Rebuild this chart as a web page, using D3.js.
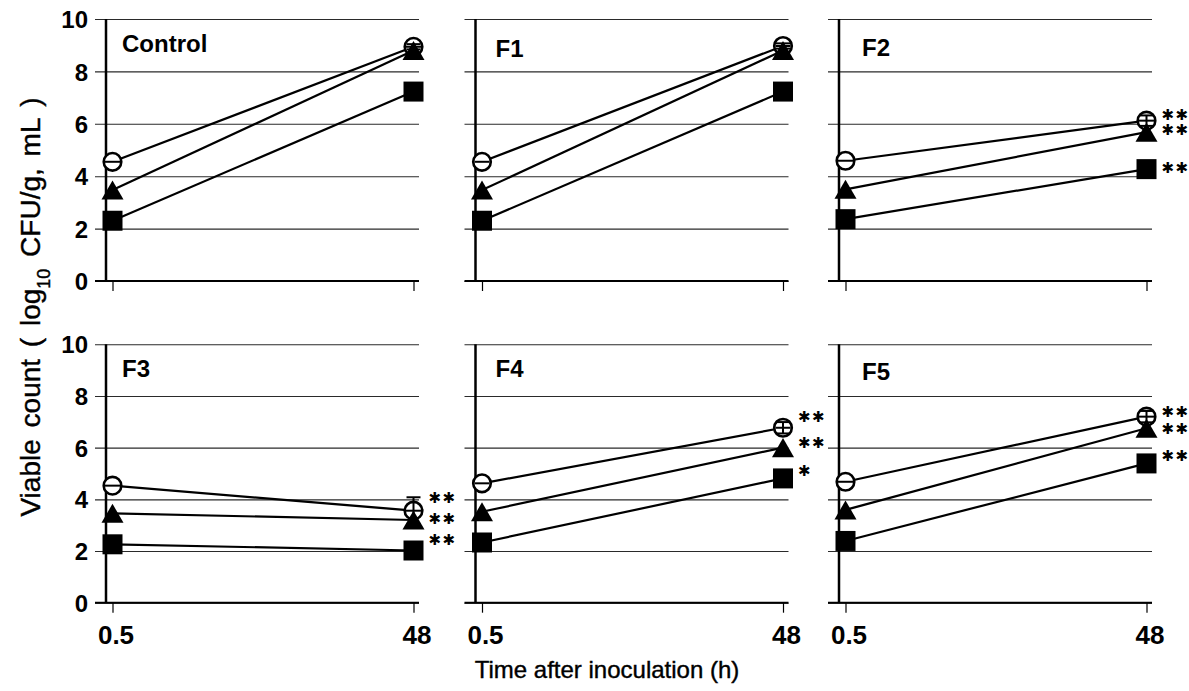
<!DOCTYPE html>
<html>
<head>
<meta charset="utf-8">
<script src="https://cdn.jsdelivr.net/npm/d3@7"></script>
<style>
  html, body { margin: 0; padding: 0; background: #fff; }
  svg { display: block; }
  text { font-family: "Liberation Sans", Arial, sans-serif; fill: #000; }
</style>
</head>
<body>
<svg id="chart" width="1189" height="691"></svg>
<script>
// ---------- data ----------
const panels = ["Control", "F1", "F2", "F3", "F4", "F5"];
const times = ["0.5", "48"];
const yTicks = [0, 2, 4, 6, 8, 10];

// open circles
const circleVals   = [[4.55, 8.94], [4.55, 8.97], [4.59, 6.12], [4.53, 3.56], [4.62, 6.77], [4.68, 7.20]];
const circleSD     = [[0.0, 0.10], [0.0, 0.10], [0.0, 0.20], [0.0, 0.52], [0.0, 0.22], [0.0, 0.22]];
// filled triangles
const triangleVals = [[3.47, 8.80], [3.47, 8.80], [3.50, 5.68], [3.46, 3.20], [3.52, 6.00], [3.59, 6.75]];
// filled squares
const squareVals   = [[2.30, 7.23], [2.30, 7.23], [2.36, 4.27], [2.26, 2.02], [2.33, 4.81], [2.39, 5.39]];

// significance marks at 48 h (circle, triangle, square) and where they sit (data units)
const sigLabels = [[null, null, null], [null, null, null], ["**", "**", "**"],
                   ["**", "**", "**"], ["**", "**", "*"], ["**", "**", "**"]];
const sigAt     = [[0, 0, 0], [0, 0, 0], [6.37, 5.76, 4.31],
                   [4.05, 3.24, 2.43], [7.20, 6.18, 5.13], [7.41, 6.72, 5.71]];

const yTitleA = "Viable count ( log";
const yTitleSub = "10";
const yTitleB = " CFU/g, mL )";
const xTitle = "Time after inoculation (h)";

// ---------- layout ----------
const svg = d3.select("#chart");
const colLeft = [106, 475.5, 839];
const panelW = 313;
const rowRange = [[281, 19], [602.7, 344.3]];
const gridOut = 11;
const labelDx = [16, 20, 23];
const labelDy = [[33, 38, 37], [33, 33, 36]];

function panelScales(i) {
  const col = i % 3, row = Math.floor(i / 3);
  const left = colLeft[col];
  const x = d3.scalePoint().domain(times).range([left + 6.5, left + panelW - 5.5]);
  const y = d3.scaleLinear().domain([0, 10]).range(rowRange[row]);
  return { x, y, left, col, row };
}

panels.forEach((name, i) => {
  const { x, y, left, col, row } = panelScales(i);
  const g = svg.append("g");

  // gridlines + tick stubs (left of axis)
  const yAxis = d3.axisLeft(y).tickValues(yTicks).tickSize(-(panelW + gridOut))
    .tickFormat(col === 0 ? d3.format("d") : () => "");
  const ga = g.append("g").attr("transform", `translate(${left - gridOut},0)`).call(yAxis);
  ga.select(".domain").remove();
  ga.selectAll(".tick line").attr("stroke", "#2a2a2a").attr("stroke-width", 1.1);
  ga.selectAll(".tick text")
    .attr("x", -(106 - 88 - gridOut)).attr("dy", "0.36em")
    .style("font-size", "24px").style("font-weight", "bold");

  // x axis line (0) thicker
  g.append("line").attr("x1", left - gridOut).attr("x2", left + panelW)
    .attr("y1", y(0)).attr("y2", y(0)).attr("stroke", "#000").attr("stroke-width", 2);
  // y axis line
  g.append("line").attr("x1", left).attr("x2", left)
    .attr("y1", y(10)).attr("y2", y(0)).attr("stroke", "#000").attr("stroke-width", 2.5);

  // x ticks
  const xAxis = d3.axisBottom(x).tickSize(10).tickSizeOuter(0)
    .tickFormat(row === 1 ? (d => d) : () => "");
  const gx = g.append("g").attr("transform", `translate(0,${y(0)})`).call(xAxis);
  gx.select(".domain").remove();
  gx.selectAll(".tick line").attr("stroke", "#000").attr("stroke-width", 1.2);
  gx.selectAll(".tick text").attr("y", 0).attr("dy", 0).attr("dx", 3)
    .attr("transform", "translate(0,41)")
    .style("font-size", "26px").style("font-weight", "bold");

  // lines
  const line = d3.line().x((d, j) => x(times[j])).y(d => y(d));
  [circleVals[i], triangleVals[i], squareVals[i]].forEach(vals => {
    g.append("path").datum(vals).attr("d", line)
      .attr("fill", "none").attr("stroke", "#000").attr("stroke-width", 2.2);
  });

  // circles with error bars
  circleVals[i].forEach((v, j) => {
    const cx = x(times[j]), cy = y(v);
    g.append("circle").attr("cx", cx).attr("cy", cy).attr("r", 8.8)
      .attr("fill", "#fff").attr("stroke", "#000").attr("stroke-width", 2.6);
    const sd = circleSD[i][j];
    const eb = g.append("g").attr("stroke", "#000").attr("stroke-width", 2);
    if (sd > 0) {
      eb.append("line").attr("x1", cx).attr("x2", cx).attr("y1", y(v - sd)).attr("y2", y(v + sd));
      eb.append("line").attr("x1", cx - 7).attr("x2", cx + 7).attr("y1", y(v + sd)).attr("y2", y(v + sd));
      eb.append("line").attr("x1", cx - 7).attr("x2", cx + 7).attr("y1", y(v - sd)).attr("y2", y(v - sd));
    }
    eb.append("line").attr("x1", cx - 7.5).attr("x2", cx + 7.5).attr("y1", cy).attr("y2", cy);
  });

  // triangles (bbox centred)
  const tri = d3.symbol().type(d3.symbolTriangle).size(210);
  const triH = Math.sqrt(210 * 4 / Math.sqrt(3)) * Math.sqrt(3) / 2;
  triangleVals[i].forEach((v, j) => {
    g.append("path").attr("d", tri())
      .attr("transform", `translate(${x(times[j])},${y(v) + triH / 6})`)
      .attr("fill", "#000");
  });

  // squares
  const sq = d3.symbol().type(d3.symbolSquare).size(400);
  squareVals[i].forEach((v, j) => {
    g.append("path").attr("d", sq())
      .attr("transform", `translate(${x(times[j])},${y(v)})`)
      .attr("fill", "#000");
  });

  // significance marks
  sigLabels[i].forEach((lab, k) => {
    if (!lab) return;
    g.append("text").attr("x", x("48") + 15).attr("y", y(sigAt[i][k]))
      .attr("dy", "0.36em")
      .style("font-family", "'DejaVu Sans', sans-serif")
      .style("font-size", "15px").style("letter-spacing", "1.5px")
      .text(lab.replace(/\*/g, "\u2731"));
  });

  // panel label
  g.append("text").attr("x", left + labelDx[col]).attr("y", y(10) + labelDy[row][col])
    .style("font-size", "24px").style("font-weight", "bold").text(name);
});

// axis titles
const yt = svg.append("text")
  .attr("transform", "translate(40,307) rotate(-90)")
  .attr("text-anchor", "middle")
  .style("font-size", "28px").style("word-spacing", "4px")
  .attr("stroke", "#000").attr("stroke-width", 0.4);
yt.append("tspan").text(yTitleA);
yt.append("tspan").attr("baseline-shift", "sub").style("font-size", "18px").text(yTitleSub);
yt.append("tspan").text(yTitleB);

svg.append("text").attr("x", 607).attr("y", 678).attr("text-anchor", "middle")
  .attr("stroke", "#000").attr("stroke-width", 0.4)
  .style("font-size", "24px").text(xTitle);
</script>
</body>
</html>
